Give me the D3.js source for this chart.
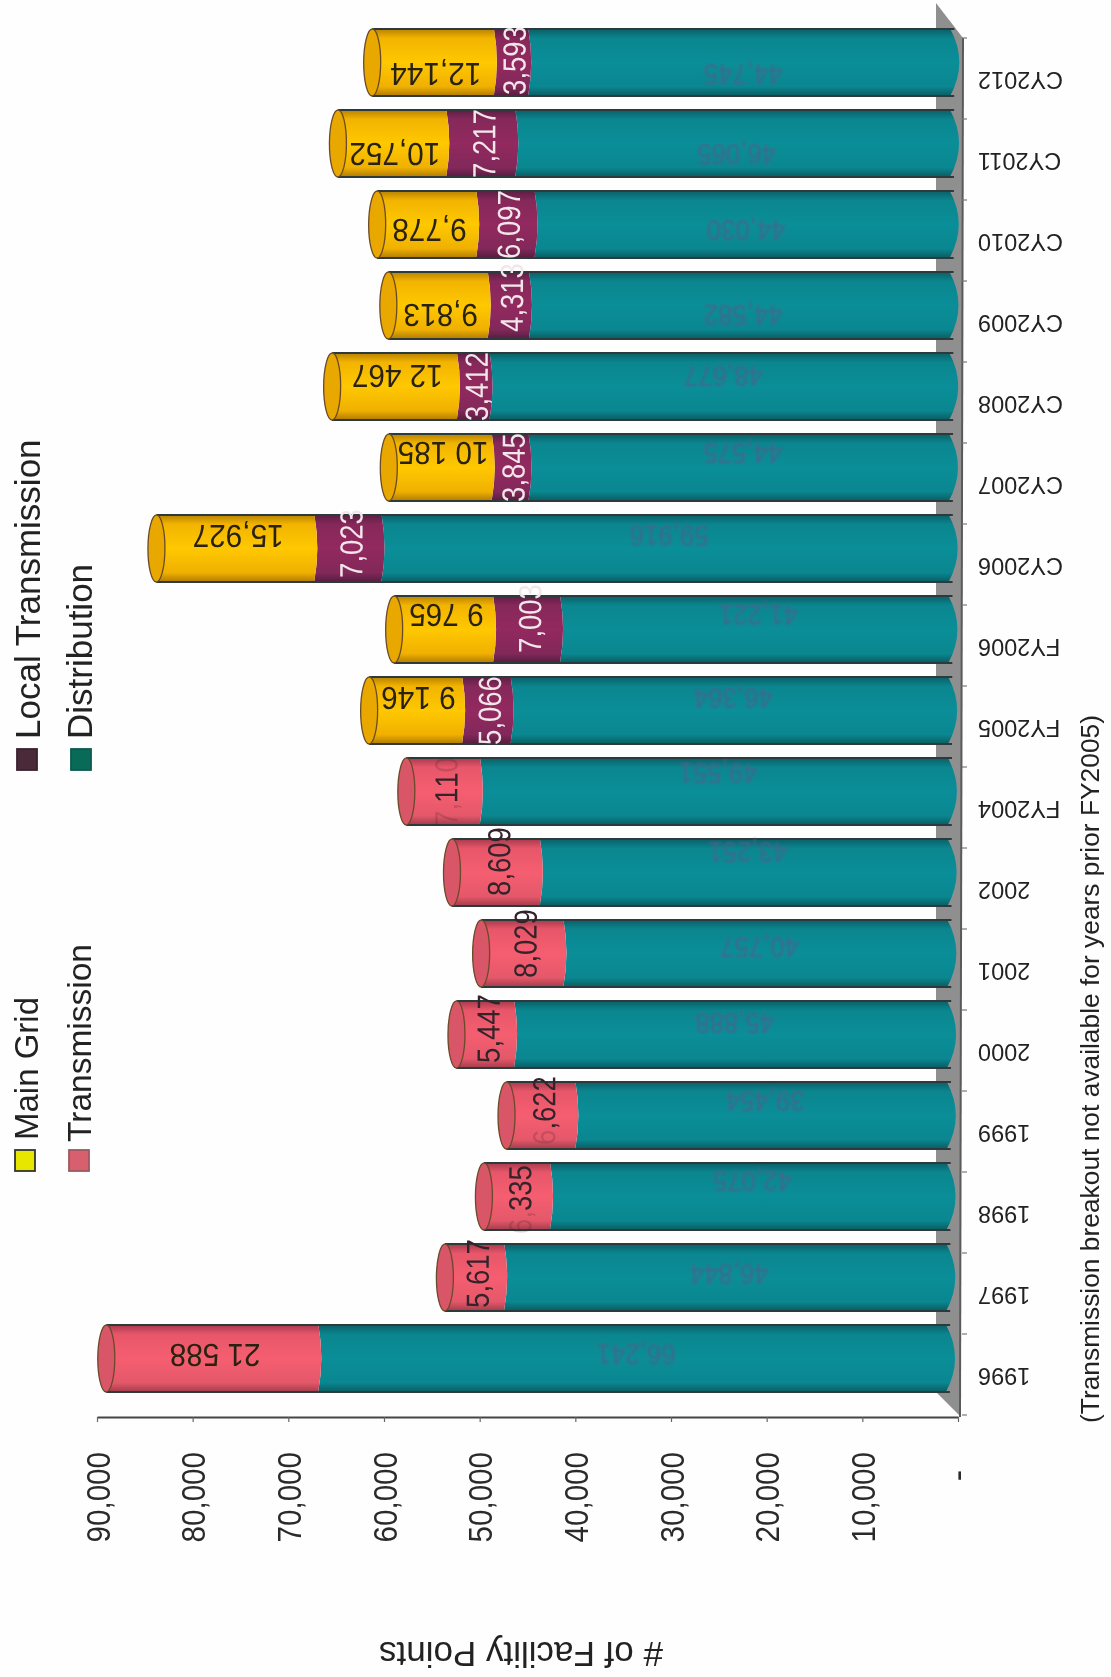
<!DOCTYPE html>
<html><head><meta charset="utf-8">
<script src="https://cdn.jsdelivr.net/npm/d3@7"></script>
<style>html,body{margin:0;padding:0;background:#fefefe}svg{display:block;filter:blur(.55px)}text{font-family:"Liberation Sans",Arial,sans-serif}.soft{filter:blur(.9px)}</style>
</head><body><div id="c"></div>
<script>
const categories=["CY2012","CY2011","CY2010","CY2009","CY2008","CY2007","CY2006","FY2006","FY2005","FY2004","2002","2001","2000","1999","1998","1997","1996"];
const distribution=[44745,46065,44030,44582,48677,44575,59916,41221,46364,49551,43251,40757,45888,39454,42075,46844,66241];
const transmission=[0,0,0,0,0,0,0,0,0,7110,8609,8029,5447,6622,6335,5617,21588];
const localTransmission=[3593,7217,6097,4313,3412,3845,7023,7003,5066,0,0,0,0,0,0,0,0];
const mainGrid=[12144,10752,9778,9813,12467,10185,15927,9765,9146,0,0,0,0,0,0,0,0];
const valueTicks=[0,10000,20000,30000,40000,50000,60000,70000,80000,90000];
const seriesNames=["Distribution","Transmission","Local Transmission","Main Grid"];
const spacedLabels=["21,588","12,467","10,185","9,146","9,765"];
const labelDrift=[12,11,6,10,-10,-14,-12,-14,-12,-18,-20,-6,-11,-14,-15,-3,-3];
const midDrift=[-2,0,0,-8,0,0,-5,-11,0,0,-11,-10,-6,-5,3,-4,0];
const fadedChars={"FY2004":[0,1,4],"1998":[0,1],"1999":[0]};

const W=1111,H=1677;
const svg=d3.select("#c").append("svg").attr("width",W).attr("height",H).attr("viewBox",[0,0,W,H]);
const defs=svg.append("defs");
const palette={
 "Distribution":["#0a5f68","#0b868f","#0a8e98","#0a8790","#0a5c62"],
 "Transmission":["#a83a4c","#e8566a","#f55e70","#e4586a","#a23c4a"],
 "Local Transmission":["#5c1f44","#86285a","#92295f","#82285a","#561d40"],
 "Main Grid":["#b98200","#f2b400","#ffc800","#f0b000","#b07a00"]};
const capFill={"Transmission":"#d95568","Main Grid":"#e8a800","Distribution":"#0a7d86","Local Transmission":"#7a2452"};
seriesNames.forEach((n,i)=>{
 const g=defs.append("linearGradient").attr("id","g"+i).attr("x1",0).attr("x2",0).attr("y1",0).attr("y2",1);
 [0,.14,.5,.86,1].forEach((o,j)=>g.append("stop").attr("offset",o).attr("stop-color",palette[n][j]));
});

const y=d3.scaleBand().domain(categories).range([22,1399]).paddingInner(14/81).paddingOuter(7/81);
const x=d3.scaleLinear().domain([0,90000]).range([955,94]);
const axisShift=3, rows=categories.map((c,i)=>({c,i,Distribution:distribution[i],Transmission:transmission[i],"Local Transmission":localTransmission[i],"Main Grid":mainGrid[i]}));
const stacked=d3.stack().keys(seriesNames)(rows);
const bw=y.bandwidth();
const endBulge=9,jointBulge=3,capRx=8.5;
const scanSkew="matrix(1,0,-0.0033,1,4.5,0)";

// back wall
svg.append("path").attr("fill","#8f8f8f").attr("d",d3.line()([[936,3],[963,38],[960,1416],[936,1392]]));

// value axis
const ax=svg.append("g").attr("transform",`translate(${axisShift},1417)`)
 .call(d3.axisBottom(x).tickValues(valueTicks).tickSize(5).tickSizeOuter(0).tickFormat(v=>v===0?"-":d3.format(",")(v)));
ax.select(".domain").attr("stroke","#444").attr("stroke-width",2);
ax.selectAll(".tick line").attr("stroke","#666").attr("stroke-width",1.2);
ax.selectAll(".tick text").attr("font-size",34).attr("fill","#2a2a2a").attr("text-anchor","end").attr("y",0).attr("x",0).attr("dy",0)
 .attr("transform",v=>v===0?"translate(10,53) rotate(-90)":"translate(12,35) rotate(-90) scale(.87,1)");

// category axis
const cx=svg.append("g").attr("transform","translate(961,0)").call(d3.axisRight(y).tickSize(0).tickSizeOuter(0));
cx.select(".domain").remove();
svg.append("line").attr("x1",963).attr("y1",38).attr("x2",960).attr("y2",1417).attr("stroke","#5a5a5a").attr("stroke-width",2);
cx.selectAll(".tick text").attr("font-size",23.5).attr("fill","#222").attr("text-anchor","end").attr("x",0).attr("y",0).attr("dy",0)
 .attr("transform","translate(17,9.5) rotate(180)");
svg.append("g").selectAll("line").data([...categories,"end"]).join("line")
 .attr("x1",962).attr("x2",967)
 .attr("y1",(d,i)=>y(categories[0])+9+y.step()*i)
 .attr("y2",(d,i)=>y(categories[0])+9+y.step()*i)
 .attr("stroke","#777").attr("stroke-width",1.2);

// cylinders
function segPath(d,si,topSeries){
 const yt=y(d.data.c),yb=yt+bw,mid=yt+bw/2;
 const pR=x(d[0]),pL=x(d[1]);
 const rb=si===0?endBulge:jointBulge;
 const leftEdge=topSeries?pL-capRx:pL-jointBulge;
 const p=d3.path();
 p.moveTo(pR-rb,yt);
 p.quadraticCurveTo(pR+rb,mid,pR-rb,yb);
 p.lineTo(leftEdge,yb);
 if(topSeries){p.lineTo(leftEdge,yt);}else{p.quadraticCurveTo(pL+jointBulge,mid,leftEdge,yt);}
 p.closePath();
 return p.toString();
}
const isTop=(d,si)=>{const v=d.data;return seriesNames.slice(si+1).every(k=>v[k]===0)};
const layer=svg.append("g").attr("transform",scanSkew);
stacked.forEach((s,si)=>{
 const gg=layer.append("g").attr("class","series");
 gg.selectAll("path").data(s.filter(d=>d[1]>d[0])).join("path")
  .attr("d",d=>segPath(d,si,isTop(d,si))).attr("fill",`url(#g${si})`);
});
// outlines and caps
const totals=rows.map(r=>({c:r.c,total:d3.sum(seriesNames,k=>r[k]),top:seriesNames.filter(k=>r[k]>0).pop()}));
layer.selectAll("line.edge").data(totals.flatMap(t=>[{t,o:0},{t,o:1}])).join("line").attr("class","edge")
 .attr("x1",d=>x(d.t.total)-capRx).attr("x2",x(0)-endBulge+4)
 .attr("y1",d=>y(d.t.c)+d.o*bw).attr("y2",d=>y(d.t.c)+d.o*bw)
 .attr("stroke","#2d3a3c").attr("stroke-width",1.8);
layer.selectAll("ellipse").data(totals).join("ellipse")
 .attr("cx",d=>x(d.total)-capRx).attr("cy",d=>y(d.c)+bw/2).attr("rx",capRx).attr("ry",bw/2)
 .attr("fill",d=>capFill[d.top]).attr("stroke","#6a4a28").attr("stroke-width",1.3);

// value labels
const fmt=d3.format(",");
const labels=svg.append("g").attr("transform",scanSkew);
const softLabels=labels.append("g").attr("class","soft");
const txt=v=>{const s=fmt(v);return spacedLabels.includes(s)?s.replace(","," "):s};
stacked.forEach((s,si)=>{
 const name=seriesNames[si];
 s.filter(d=>d[1]>d[0]).forEach(d=>{
  const i=d.data.i,v=d[1]-d[0],cxp=(x(d[0])+x(d[1]))/2-(isTop(d,si)?3:0),c=y(d.data.c)+bw/2;
  const flat=name==="Distribution"||name==="Main Grid"||v>8700;
  const t=(name==="Distribution"?softLabels:labels).append("text").attr("text-anchor","middle").attr("dy",".36em");
  if(name==="Distribution"){
   t.attr("font-size",30).attr("fill","#4d5f8c").attr("opacity",.8)
    .attr("transform",`translate(${cxp-2},${c+labelDrift[i]}) rotate(180) scale(.86,1)`).text(txt(v));
  }else if(flat){
   t.attr("font-size",32).attr("fill","#2a2210")
    .attr("transform",`translate(${cxp},${c+labelDrift[i]}) rotate(180) scale(.93,1)`).text(txt(v));
  }else{
   t.attr("font-size",32)
    .attr("fill",name==="Local Transmission"?"#f3e6ea":"#33232a")
    .attr("transform",`translate(${cxp},${c+midDrift[i]}) rotate(-90) scale(.86,1)`);
   const faded=fadedChars[d.data.c]||[];
   [...fmt(v)].forEach((ch,k)=>t.append("tspan").attr("fill-opacity",faded.includes(k)?.2:1).text(ch));
  }
 });
});

// axis title and note
svg.append("text").attr("text-anchor","middle").attr("font-size",35).attr("fill","#222")
 .attr("transform","translate(521,1642) rotate(180)").text("# of Facility Points");
svg.append("text").attr("text-anchor","middle").attr("font-size",25).attr("fill","#222")
 .attr("textLength",708).attr("lengthAdjust","spacingAndGlyphs")
 .attr("transform","translate(1099,1069) rotate(-90)").text("(Transmission breakout not available for years prior FY2005)");

// legend
const legendRows=[
 {name:"Main Grid",fill:"#e6e600",stroke:"#333",bx:38,sx:15,sy:1150,fs:33,gap:10},
 {name:"Local Transmission",fill:"#4a2a38",stroke:"#3a2230",bx:40,sx:17,sy:749,fs:35,gap:10},
 {name:"Transmission",fill:"#d8606e",stroke:"#9a5a60",bx:91,sx:69,sy:1150,fs:33.5,gap:8},
 {name:"Distribution",fill:"#0a6a58",stroke:"#0a5a50",bx:92,sx:71,sy:749,fs:35,gap:10}];
const lg=svg.append("g").selectAll("g").data(legendRows).join("g");
lg.append("rect").attr("x",d=>d.sx).attr("y",d=>d.sy).attr("width",20).attr("height",21)
 .attr("fill",d=>d.fill).attr("stroke",d=>d.stroke).attr("stroke-width",1.8);
lg.append("text").attr("font-size",d=>d.fs).attr("fill","#222")
 .attr("transform",d=>`translate(${d.bx},${d.sy-d.gap}) rotate(-90)`).text(d=>d.name);
</script></body></html>
